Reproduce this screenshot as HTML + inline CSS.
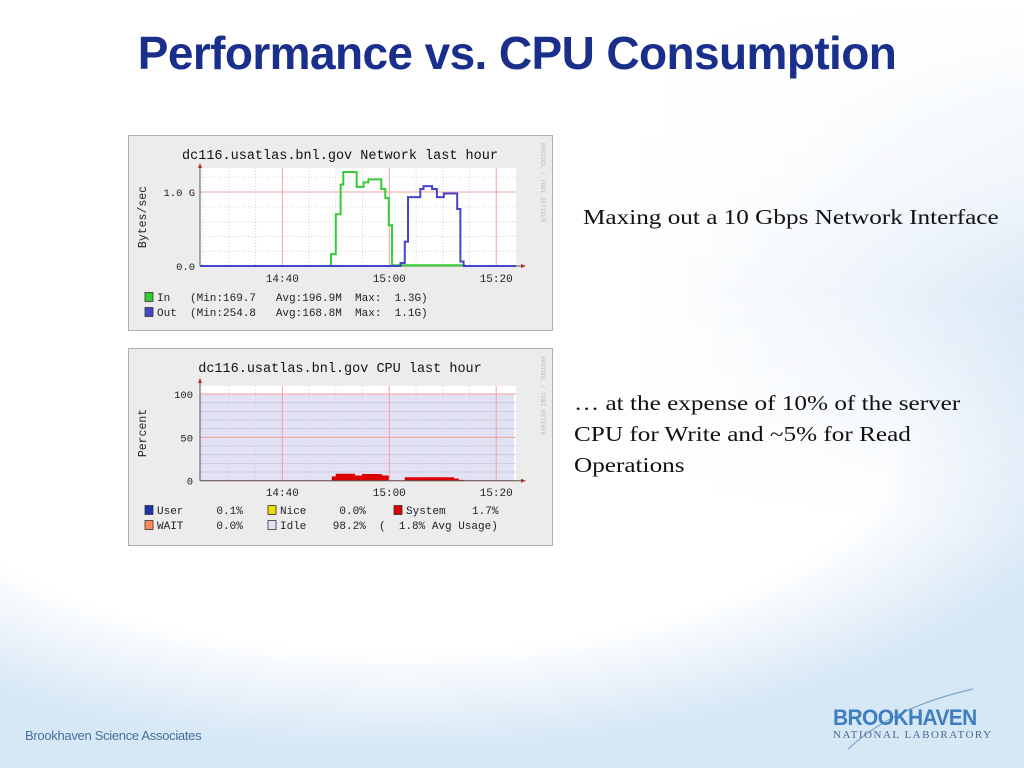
<!DOCTYPE html>
<html><head><meta charset="utf-8">
<style>
html,body{margin:0;padding:0}
body{width:1024px;height:768px;position:relative;overflow:hidden;background:radial-gradient(ellipse 720px 330px at 400px 420px,#fff 0%,#fff 70%,#e6f0f9 88%,#d6e7f6 100%),#d6e7f6;font-family:"Liberation Sans",sans-serif}
.topwhite{position:absolute;left:0;top:0;width:1024px;height:520px;background:linear-gradient(to right,#fff 0%,#fff 62%,#f2f7fc 80%,#dbe9f6 100%);-webkit-mask-image:linear-gradient(to bottom,#000 0%,#000 55%,transparent 100%);mask-image:linear-gradient(to bottom,#000 0%,#000 55%,transparent 100%)}
.topwhite2{position:absolute;left:0;top:0;width:1024px;height:300px;background:linear-gradient(to bottom,#fff 0%,rgba(255,255,255,0.6) 60%,rgba(255,255,255,0) 100%)}
h1{position:absolute;left:0;width:1034px;top:26px;margin:0;text-align:center;font-size:46px;font-weight:bold;color:#1a2f8c;letter-spacing:-0.6px}
.txt{position:absolute;font-family:"Liberation Serif",serif;font-size:21px;color:#111;line-height:31px;white-space:nowrap;transform:scaleX(1.2);transform-origin:left top}
.chart{position:absolute}
.mono{font-family:"Liberation Mono",monospace;white-space:pre}
</style></head><body>
<div class="topwhite"></div>
<div class="topwhite2"></div>
<h1>Performance vs. CPU Consumption</h1>
<div class="txt" style="left:583px;top:202px">Maxing out a 10 Gbps Network Interface</div>
<div class="txt" style="left:574px;top:388px">… at the expense of 10% of the server<br>CPU for Write and ~5% for Read<br>Operations</div>

<svg class="chart" id="net" style="left:128px;top:135px" width="425" height="196" viewBox="0 0 425 196"></svg>
<svg class="chart" id="cpu" style="left:128px;top:348px" width="425" height="198" viewBox="0 0 425 198"></svg>

<div style="position:absolute;left:25px;top:728px;font-size:13px;color:#4a6f9a;letter-spacing:-0.3px">Brookhaven Science Associates</div>
<div style="position:absolute;left:833px;top:707px;width:172px">
<svg width="172" height="70" style="position:absolute;left:0;top:-20px"><path d="M15 62 Q60 20 140 2" stroke="#7fa6cc" stroke-width="1.2" fill="none"/></svg>
<div style="font-family:'Liberation Sans',sans-serif;font-weight:bold;font-size:22px;color:#3f7ec0;letter-spacing:-0.6px;position:relative;line-height:22px;transform:scaleX(0.95);transform-origin:left">BROOKHAVEN</div>
<div style="font-family:'Liberation Serif',serif;font-size:11px;color:#4a6a90;letter-spacing:1.5px;position:relative">NATIONAL LABORATORY</div>
</div>

<script>
// ---- Network data (minutes after 14:00, step start; value in G bytes/sec)
const netInTimes  = [0, 49.1, 50, 50.9, 51.4, 53.9, 55.2, 56.1, 58.5, 59.25, 59.9, 60.5, 74, 85];
const netInValues = [0, 0.16, 0.70, 1.10, 1.27, 1.07, 1.13, 1.17, 1.04, 0.92, 0.55, 0.01, 0, 0];
const netOutTimes  = [0, 62.1, 62.9, 63.5, 65.8, 66.4, 68, 68.9, 70.2, 72.7, 73.3, 73.9, 85];
const netOutValues = [0, 0.04, 0.33, 0.93, 1.04, 1.08, 1.04, 0.93, 0.98, 0.77, 0.06, 0, 0];
const netYTicks = [0, 1];
const netYLabels = ["0.0", "1.0 G"];
// ---- CPU data (percent)
const cpuTimes  = [0, 49.25, 50, 53.6, 54.9, 58.6, 59.9, 62.9, 72.1, 73, 73.9, 85];
const cpuSystem = [0, 5, 8, 6, 7.7, 6, 0, 4, 2.5, 1, 0, 0];
const cpuYTicks = [0, 50, 100];
const timeTicks = [40, 60, 80];
const timeLabels = ["14:40", "15:00", "15:20"];

const NS = "http://www.w3.org/2000/svg";
function mk(p, tag, at) { const e = document.createElementNS(NS, tag); for (const k in at) e.setAttribute(k, at[k]); p.appendChild(e); return e; }
const X0 = 72, X1 = 388, T0 = 24.6, T1 = 83.7;
function xs(t) { return X0 + (t - T0) * (X1 - X0) / (T1 - T0); }
function clampT(t){ return Math.max(T0, Math.min(T1, t)); }

function frame(svg, h, title) {
  const bg = mk(svg, "rect", {x:0.5,y:0.5,width:424,height:h-1,fill:"#ececec",stroke:"#b0b0b0"});
  
  
  const t = mk(svg, "text", {x:212, y:24, "text-anchor":"middle", "font-size":"13.5", fill:"#111", class:"mono"});
  t.textContent = title;
  
  
  const w = mk(svg, "text", {x:413, y:8, "font-size":"6", fill:"#bbb", class:"mono", transform:"rotate(90 413 8)"});
  w.textContent = "RRDTOOL / TOBI OETIKER";
  
  
}
function timeAxis(svg, yTop, yBase, labelY) {
  for (let m = 25; m <= 83; m += 5) {
    const major = timeTicks.includes(m);
    mk(svg, "line", {x1:xs(m), x2:xs(m), y1:yTop, y2:yBase, stroke: major ? "#f0a0a0" : "#d4d4d4", "stroke-width":1, "stroke-dasharray": major ? "" : "1,2"});
  }
  timeTicks.forEach((m, i) => {
    const t = mk(svg, "text", {x:xs(m), y:labelY, "text-anchor":"middle", "font-size":"11", fill:"#222", class:"mono"});
    t.textContent = timeLabels[i];
    
    
  });
}
function stepPath(times, vals, ys) {
  let d = "";
  for (let i = 0; i < times.length - 1; i++) {
    const a = xs(clampT(times[i])), b = xs(clampT(times[i+1])), y = ys(vals[i]);
    d += (i === 0 ? "M" : "L") + a + " " + y + " L" + b + " " + y + " ";
  }
  return d;
}
function legendRow(svg, x, y, color, txt, name) {
  const r = mk(svg, "rect", {x:x, y:y-8.5, width:8, height:9, fill:color, stroke:"#333", "stroke-width":0.8});
  
  
  const t = mk(svg, "text", {x:x+12, y:y, "font-size":"11", fill:"#222", class:"mono"});
  t.textContent = txt;
  
  
}

// ===== Network chart
(function(){
  const svg = document.getElementById("net");
  frame(svg, 196, "dc116.usatlas.bnl.gov Network last hour");
  const YB = 131, Y1 = 57, YT = 33;
  const ys = v => YB - v * (YB - Y1);
  mk(svg, "rect", {x:X0, y:YT, width:X1-X0, height:YB-YT, fill:"#fff"});
  for (let v = 0.2; v < 1.35; v += 0.2) {
    mk(svg, "line", {x1:X0, x2:X1, y1:ys(v), y2:ys(v), stroke:"#d4d4d4", "stroke-dasharray":"1,2"});
  }
  timeAxis(svg, YT, YB, 147);
  netYTicks.forEach((v, i) => {
    mk(svg, "line", {x1:X0, x2:X1, y1:ys(v), y2:ys(v), stroke:"#f0a0a0"});
    const t = mk(svg, "text", {x:X0-5, y:ys(v)+4, "text-anchor":"end", "font-size":"10.5", fill:"#222", class:"mono"});
    t.textContent = netYLabels[i];
    
    
  });
  const yl = mk(svg, "text", {x:18, y:82, "text-anchor":"middle", "font-size":"11.5", fill:"#222", class:"mono", transform:"rotate(-90 18 82)"});
  yl.textContent = "Bytes/sec";
  
  
  mk(svg, "line", {x1:X0, x2:X1+8, y1:YB, y2:YB, stroke:"#555"});
  mk(svg, "line", {x1:X0, x2:X0, y1:YB, y2:YT-3, stroke:"#555"});
  mk(svg, "path", {d:`M${X1+5} ${YB-2}L${X1+10} ${YB}L${X1+5} ${YB+2}Z`, fill:"#a33"});
  mk(svg, "path", {d:`M${X0-2} ${YT}L${X0} ${YT-5}L${X0+2} ${YT}Z`, fill:"#a33"});
  const pin = mk(svg, "path", {d:stepPath(netInTimes, netInValues, ys), fill:"none", stroke:"#33cc33", "stroke-width":2});
  
  
  const pout = mk(svg, "path", {d:stepPath(netOutTimes, netOutValues, ys), fill:"none", stroke:"#4444cc", "stroke-width":2});
  
  
  legendRow(svg, 17, 166, "#33cc33", "In   (Min:169.7   Avg:196.9M  Max:  1.3G)", "in");
  legendRow(svg, 17, 181, "#4444cc", "Out  (Min:254.8   Avg:168.8M  Max:  1.1G)", "out");
})();

// ===== CPU chart
(function(){
  const svg = document.getElementById("cpu");
  frame(svg, 198, "dc116.usatlas.bnl.gov CPU last hour");
  const YB = 132.7, Y100 = 46, YT = 38;
  const ys = v => YB - v * (YB - Y100) / 100;
  mk(svg, "rect", {x:X0, y:YT, width:X1-X0, height:YB-YT, fill:"#fff"});
  const idle = mk(svg, "rect", {x:X0, y:Y100, width:X1-X0-2, height:YB-Y100, fill:"#e2e2f4"});
  
  
  for (let v = 10; v < 100; v += 10) {
    if (v === 50) continue;
    mk(svg, "line", {x1:X0, x2:X1, y1:ys(v), y2:ys(v), stroke:"#c8c8dc", "stroke-width":0.8});
  }
  timeAxis(svg, YT, YB, 148);
  cpuYTicks.forEach(v => {
    mk(svg, "line", {x1:X0, x2:X1, y1:ys(v), y2:ys(v), stroke:"#f0a0a0"});
    const t = mk(svg, "text", {x:X0-7, y:ys(v)+4, "text-anchor":"end", "font-size":"10.5", fill:"#222", class:"mono"});
    t.textContent = String(v);
    
    
  });
  const yl = mk(svg, "text", {x:18, y:85, "text-anchor":"middle", "font-size":"11.5", fill:"#222", class:"mono", transform:"rotate(-90 18 85)"});
  yl.textContent = "Percent";
  
  
  const sys = mk(svg, "path", {d:stepPath(cpuTimes, cpuSystem, ys) + `L${xs(T1)} ${YB} L${X0} ${YB} Z`, fill:"#dd0000", stroke:"none"});
  
  
  mk(svg, "line", {x1:X0, x2:X1+8, y1:YB, y2:YB, stroke:"#555"});
  mk(svg, "line", {x1:X0, x2:X0, y1:YB, y2:YT-5, stroke:"#555"});
  mk(svg, "path", {d:`M${X1+5} ${YB-2}L${X1+10} ${YB}L${X1+5} ${YB+2}Z`, fill:"#a33"});
  mk(svg, "path", {d:`M${X0-2} ${YT-3}L${X0} ${YT-8}L${X0+2} ${YT-3}Z`, fill:"#a33"});
  legendRow(svg, 17, 166, "#2233aa", "User     0.1%", "user");
  legendRow(svg, 140, 166, "#eedd00", "Nice     0.0%", "nice");
  legendRow(svg, 266, 166, "#dd0000", "System    1.7%", "system");
  legendRow(svg, 17, 181, "#ff8855", "WAIT     0.0%", "wait");
  legendRow(svg, 140, 181, "#e2e2f4", "Idle    98.2%  (  1.8% Avg Usage)", "idle");
})();
</script>
</body></html>
